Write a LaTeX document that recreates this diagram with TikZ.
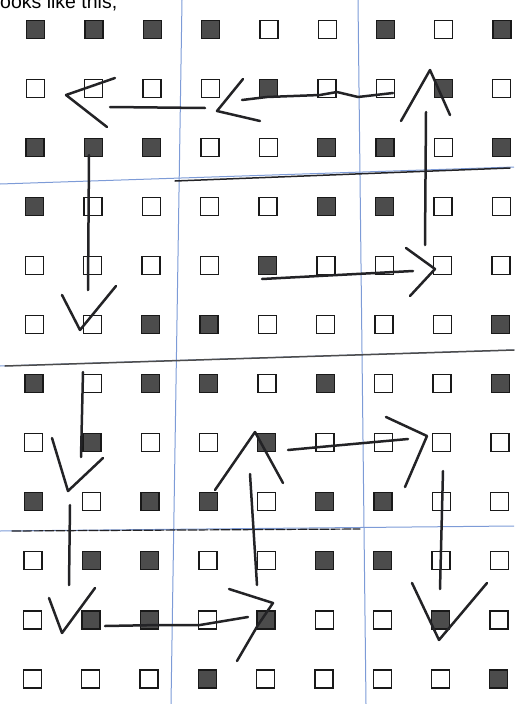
\documentclass[tikz,border=0pt]{standalone}
\usepackage{fontspec}
\setmainfont{Liberation Sans}
\definecolor{guideblue}{RGB}{125,155,215}
\definecolor{penink}{RGB}{35,35,38}

\begin{document}
\begin{tikzpicture}[x=1pt,y=-1pt,
  sq/.style={draw=black!90, line width=1.3pt, minimum size=18pt, inner sep=0pt, outer sep=0pt},
  sq0/.style={sq, fill=white},
  sq1/.style={sq, fill=black!70},
  guide/.style={guideblue, line width=1pt},
  pen/.style={penink, line width=2.5pt, line cap=round, line join=round}]
  \useasboundingbox (0,0) rectangle (514,704);

  % Caption at the top, cut by the page edge as in the scan
  \node[anchor=base west, inner sep=0pt, font=\fontsize{19.5}{22}\selectfont]
    (caption) at (-4.3,9) {looks like this,};

  % Blue guide lines (3x3 blocks)
  \draw[guide] (182,0) -- (171,704);
  \draw[guide] (358,0) -- (366,704);
  \draw[guide] (0,184) -- (514,167);
  \draw[guide] (0,366) -- (514,350);
  \draw[guide] (0,531) -- (514,526);

  % Pen over the guide lines
  \draw[pen, line width=1.5pt] (175,181) -- (510,168);
  \draw[pen, line width=1.5pt, black!70] (5,366) -- (514,350);
  \draw[pen, line width=1.2pt, dashed, dash pattern=on 9pt off 2pt] (12,531) -- (360,529);

  % Grid of squares, one row per list
  \foreach \pat [count=\r from 0] in {
      {1,1,1,1,0,0,1,0,1},{0,0,0,0,1,0,0,1,0},{1,1,1,0,0,1,1,0,1},
      {1,0,0,0,0,1,1,0,0},{0,0,0,0,1,0,0,0,0},{0,0,1,1,0,0,0,0,1},
      {1,0,1,1,0,1,0,0,1},{0,1,0,0,1,0,0,0,0},{1,0,1,1,0,1,1,0,0},
      {0,1,1,0,0,1,1,0,0},{0,1,1,0,1,0,0,1,0},{0,0,0,1,0,0,0,0,1}}
    \foreach \v [count=\c from 0] in \pat
      \node[sq\v] (s\r-\c) at ({35.7+58.3*\c-0.3*\r},{29.3+59.06*\r}) {};

  % === Hand-drawn arrows, upper half ===
  % row 2, right to left
  \draw[pen] (393,93) -- (358,97) -- (337,92) -- (320,95) -- (267,97) -- (242,100);
  \draw[pen] (243,79) -- (217,111) -- (260,121);
  \draw[pen] (110,107) -- (205,108);
  \draw[pen] (115,78) -- (66,95) -- (107,127);
  % down the left column
  \draw[pen] (89,155) -- (88,290);
  \draw[pen] (62,295) -- (80,330) -- (116,286);
  % row 5, left to right
  \draw[pen] (262,279) -- (413,271);
  \draw[pen] (406,248) -- (435,269) -- (410,296);
  % up the right side
  \draw[pen] (425,245) -- (426,112);
  \draw[pen] (401,121) -- (430,70) -- (450,115);

  % === Hand-drawn arrows, lower half ===
  \draw[pen] (83,372) -- (81,457);
  \draw[pen] (52,438) -- (68,491) -- (103,458);
  \draw[pen] (70,505) -- (69,585);
  \draw[pen] (49,598) -- (62,633) -- (95,588);
  % row 11, left to right
  \draw[pen] (105,626) -- (160,625) -- (200,625) -- (248,617);
  \draw[pen] (229,589) -- (273,603) -- (258,625) -- (237,661);
  % up the middle
  \draw[pen] (257,585) -- (250,474);
  \draw[pen] (215,490) -- (255,432) -- (283,483);
  % row 8, left to right
  \draw[pen] (288,450) -- (320,447) -- (408,439);
  \draw[pen] (386,417) -- (427,436) -- (405,487);
  % down the right side
  \draw[pen] (443,471) -- (440,589);
  \draw[pen] (412,583) -- (439,640) -- (487,583);

\end{tikzpicture}
\end{document}
